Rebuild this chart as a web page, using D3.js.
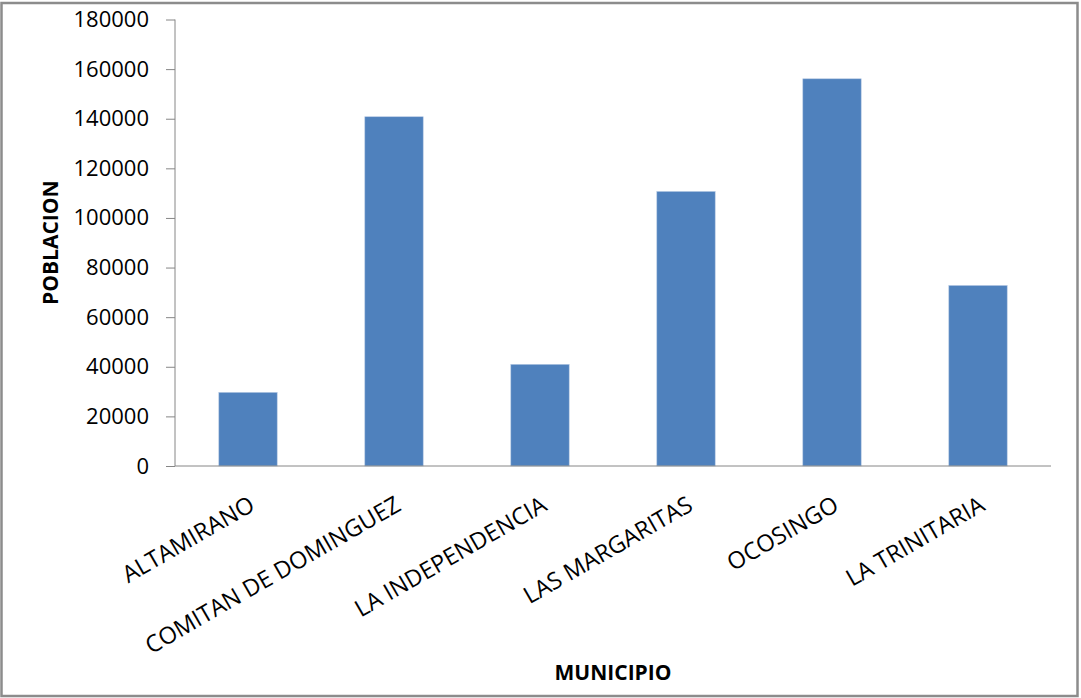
<!DOCTYPE html>
<html>
<head>
<meta charset="utf-8">
<script src="https://cdn.jsdelivr.net/npm/d3@7"></script>
<style>
  html, body { margin: 0; padding: 0; background: #fff; }
  svg { display: block; }
  text { font-family: "Open Sans", "Liberation Sans", sans-serif; fill: #000; }
</style>
</head>
<body>
<svg id="chart" width="1081" height="698"></svg>
<script>
const categories = ["ALTAMIRANO", "COMITAN DE DOMINGUEZ", "LA INDEPENDENCIA", "LAS MARGARITAS", "OCOSINGO", "LA TRINITARIA"];
const poblacion = [29700, 140800, 41000, 110700, 156100, 72800];
const yTicks = [0, 20000, 40000, 60000, 80000, 100000, 120000, 140000, 160000, 180000];
const xTitle = "MUNICIPIO";
const yTitle = "POBLACION";

const svg = d3.select("#chart");

// outer frame
svg.append("rect")
  .attr("x", 1.5).attr("y", 3)
  .attr("width", 1076).attr("height", 693)
  .attr("fill", "#fff")
  .attr("stroke", "#8c8c8c")
  .attr("stroke-width", 2.5);

const plot = { left: 175, right: 1051, top: 19.5, bottom: 466 };

const x = d3.scaleBand()
  .domain(categories)
  .range([plot.left, plot.right])
  .paddingInner(0.6)
  .paddingOuter(0.3);

const y = d3.scaleLinear()
  .domain([0, 180000])
  .range([plot.bottom, plot.top]);

const axisColor = "#868686";

// y axis
const yAxis = svg.append("g")
  .attr("transform", `translate(${plot.left},0)`)
  .call(d3.axisLeft(y).tickValues(yTicks).tickFormat(d3.format("d")).tickSize(9).tickPadding(17));
yAxis.select(".domain").attr("stroke", axisColor).attr("d", `M0,${plot.bottom}V${plot.top}`);
yAxis.selectAll(".tick line").attr("stroke", axisColor);
yAxis.selectAll(".tick text")
  .attr("font-size", 22)
  .attr("font-family", "'Open Sans', sans-serif")
  .attr("fill", "#1a1a1a");

// bars
svg.append("g").selectAll("rect")
  .data(categories)
  .join("rect")
  .attr("x", d => x(d))
  .attr("width", x.bandwidth())
  .attr("y", (d, i) => y(poblacion[i]))
  .attr("height", (d, i) => y(0) - y(poblacion[i]))
  .attr("fill", "#4F81BD")
  .attr("stroke", "#b9cbe4")
  .attr("stroke-width", 0.6);

// x axis line
const xAxis = svg.append("g")
  .attr("transform", `translate(0,${plot.bottom})`)
  .call(d3.axisBottom(x).tickSize(0).tickFormat(""));
xAxis.select(".domain").attr("stroke", axisColor).attr("d", `M${plot.left},0H${plot.right}`);

// rotated category labels
svg.append("g").selectAll("text")
  .data(categories)
  .join("text")
  .attr("transform", d => `translate(${x(d) + x.bandwidth() / 2},${plot.bottom + 29}) rotate(-30)`)
  .attr("text-anchor", "end")
  .attr("dy", "0.71em")
  .attr("font-size", 23.5)
  .attr("fill", "#1a1a1a")
  .text(d => d);

// axis titles
svg.append("text")
  .attr("x", (plot.left + plot.right) / 2)
  .attr("y", 680)
  .attr("text-anchor", "middle")
  .attr("font-size", 21)
  .attr("font-weight", "bold")
  .text(xTitle);

svg.append("text")
  .attr("transform", `translate(58,${(plot.top + plot.bottom) / 2}) rotate(-90)`)
  .attr("text-anchor", "middle")
  .attr("font-size", 21)
  .attr("font-weight", "bold")
  .text(yTitle);
</script>
</body>
</html>
